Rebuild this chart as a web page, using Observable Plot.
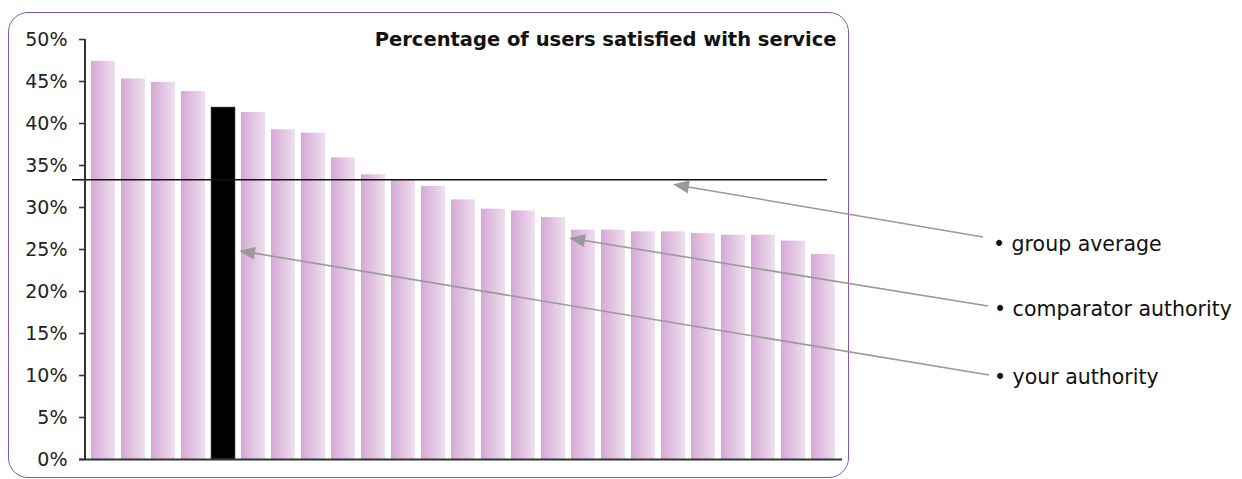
<!DOCTYPE html>
<html>
<head>
<meta charset="utf-8">
<script src="https://cdn.jsdelivr.net/npm/d3@7"></script>
<script src="https://cdn.jsdelivr.net/npm/@observablehq/plot@0.6"></script>
<style>
  html, body { margin: 0; padding: 0; background: #fff; }
  #wrap { position: relative; width: 1242px; height: 479px; overflow: hidden; }
  #border { position: absolute; left: 8px; top: 12px; width: 839px; height: 464px;
            border: 1.5px solid #8455b5; border-radius: 20px; box-sizing: content-box; pointer-events: none; }
  #chart { position: absolute; left: 0; top: 0; }
</style>
</head>
<body>
<div id="wrap"><div id="border"></div><div id="chart"></div></div>
<script>
// ---- data ----
const authorities = ["A1","A2","A3","A4","A5","A6","A7","A8","A9","A10","A11","A12","A13",
                     "A14","A15","A16","A17","A18","A19","A20","A21","A22","A23","A24","A25"];
const satisfaction = [47.4, 45.3, 44.9, 43.8, 41.9, 41.3, 39.25, 38.85, 35.9, 33.9, 33.2, 32.5, 30.9,
                      29.8, 29.6, 28.8, 27.3, 27.3, 27.1, 27.1, 26.9, 26.7, 26.7, 26.0, 24.4];
const yourAuthority = "A5";
const groupAverage = 33.3;
const yTicks = [0, 5, 10, 15, 20, 25, 30, 35, 40, 45, 50];
const chartTitle = "Percentage of users satisfied with service";

// annotations: label, target authority, anchor on the bar, target value
const noteLabels = ["• group average", "• comparator authority", "• your authority"];
const noteTargets = ["A20", "A16", "A5"];
const noteAnchors = ["center", "right", "right"];
const noteValues = [32.7, 26.3, 24.8];

const table = authorities.map((a, i) => ({authority: a, value: satisfaction[i]}));

const plot = Plot.plot({
  width: 1242,
  height: 479,
  marginLeft: 85,
  marginRight: 400,
  marginTop: 39,
  marginBottom: 20,
  style: {fontFamily: "'DejaVu Sans', Verdana, sans-serif", fontSize: "19px", background: "transparent", overflow: "visible"},
  x: {domain: authorities, paddingInner: 0.19, paddingOuter: 0.04, axis: null},
  y: {domain: [0, 50], axis: null},
  marks: [
    Plot.barY(table.filter(d => d.authority !== yourAuthority), {x: "authority", y: "value", fill: "url(#barGrad)"}),
    Plot.barY(table.filter(d => d.authority === yourAuthority), {x: "authority", y: "value", fill: "#000", stroke: "#555", strokeWidth: 0.6}),
    Plot.ruleY([groupAverage], {stroke: "#111", strokeWidth: 1.6, insetLeft: -13, insetRight: 15}),
    Plot.ruleY([0], {stroke: "#333", strokeWidth: 2, insetLeft: -6}),
    Plot.axisY({ticks: yTicks, tickFormat: d => d + "%", tickSize: 6, tickPadding: 12,
                fontSize: 19, stroke: "#333", strokeWidth: 1.6, fill: "#222", label: null}),
    Plot.text([chartTitle], {frameAnchor: "top-right", dx: -6, dy: 0, lineAnchor: "middle",
                             fontWeight: "bold", fontSize: 19.5, fill: "#111", text: d => d})
  ]
});

const svg = d3.select(plot);
const defs = svg.insert("defs", ":first-child");
const g = defs.append("linearGradient").attr("id", "barGrad").attr("x1", "0").attr("x2", "1").attr("y1", "0").attr("y2", "0");
g.append("stop").attr("offset", "0%").attr("stop-color", "#d5a8d5");
g.append("stop").attr("offset", "100%").attr("stop-color", "#eee0ee");

const xs = plot.scale("x"), ys = plot.scale("y");
const bw = xs.bandwidth;

// y-axis line
svg.append("line")
  .attr("x1", xs.range[0]).attr("x2", xs.range[0])
  .attr("y1", ys.apply(50)).attr("y2", ys.apply(0))
  .attr("stroke", "#333").attr("stroke-width", 2);

// annotations
const tails = [[983, 237], [988, 306], [989, 375]];
const labelPos = [[993, 251], [994, 316], [994, 384]];
const ann = svg.append("g").attr("text-anchor", "start");
noteLabels.forEach((lab, i) => {
  const x0 = xs.apply(noteTargets[i]);
  const tipX = noteAnchors[i] === "center" ? x0 + bw / 2 : x0 + bw + 4;
  const tipY = ys.apply(noteValues[i]);
  const [tx, ty] = tails[i];
  const dx = tipX - tx, dy = tipY - ty, len = Math.hypot(dx, dy);
  const ux = dx / len, uy = dy / len;
  const hl = 16, hw = 6.5;
  const bx = tipX - ux * hl, by = tipY - uy * hl;
  ann.append("line").attr("x1", tx).attr("y1", ty).attr("x2", bx + ux * 2).attr("y2", by + uy * 2)
    .attr("stroke", "#999").attr("stroke-width", 1.6);
  ann.append("polygon")
    .attr("points", `${tipX},${tipY} ${bx - uy * hw},${by + ux * hw} ${bx + uy * hw},${by - ux * hw}`)
    .attr("fill", "#999");
  ann.append("text").attr("x", labelPos[i][0]).attr("y", labelPos[i][1])
    .attr("text-anchor", "start")
    .attr("font-size", 20.5).attr("fill", "#111").text(lab);
});

document.getElementById("chart").appendChild(plot);
</script>
</body>
</html>
